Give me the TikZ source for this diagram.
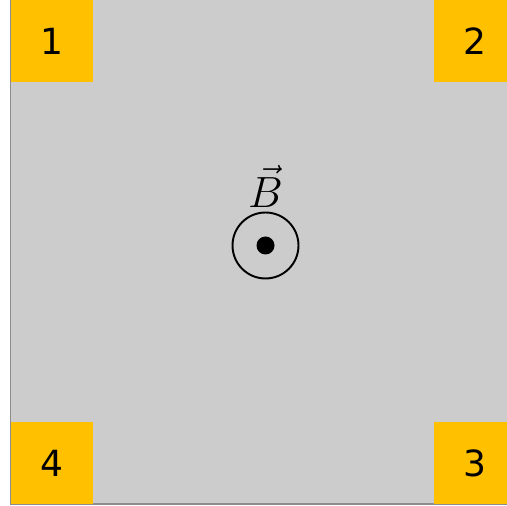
\documentclass[tikz,border=0pt]{standalone}
\usepackage{amsmath}
\usepackage{fontspec}
\setsansfont{DejaVu Sans}
\usepackage{xcolor}
\usetikzlibrary{positioning}

\definecolor{plate}{HTML}{CCCCCC}
\definecolor{pad}{HTML}{FFC000}

\begin{document}
\begin{tikzpicture}[x=0.02cm,y=-0.02cm,semithick,node distance=1pt]
  \tikzstyle{contact}=[fill=pad, draw=none, inner sep=0pt, minimum size=1.64cm,
                       font=\sffamily\fontsize{20.5}{24}\selectfont]
  \useasboundingbox (0,0) rectangle (507,506);
  \draw[draw=gray!90, fill=plate, line width=0.6pt] (10.5,-3) rectangle (517,504);
  \node[contact] (c1) at (52,41)   {1};
  \node[contact] (c2) at (475,41)  {2};
  \node[contact] (c3) at (475,463) {3};
  \node[contact] (c4) at (52,463)  {4};
  \node[circle, draw, line width=1.1pt, minimum size=1.32cm] (field) at (265.5,245.5) {};
  \fill (field.center) circle (9);
  \node (label) [above=-1.5pt of field, font=\fontsize{23}{27}\selectfont] {$\vec{B}$};
\end{tikzpicture}
\end{document}
